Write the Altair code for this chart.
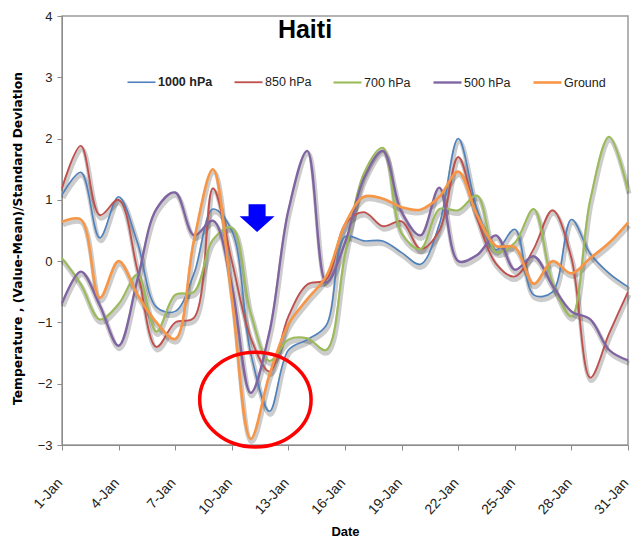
import altair as alt
import pandas as pd

# ---- data (daily values, 1-31 Jan) ----
days = list(range(1, 32))
series_names = ["1000 hPa", "850 hPa", "700 hPa", "500 hPa", "Ground"]
series_colors = ["#4F81BD", "#C0504D", "#9BBB59", "#8064A2", "#F79646"]
series_widths = [1.6, 2.6, 2.6, 2.6, 2.6]

hpa1000 = [1.08, 1.45, 0.38, 1.05, 0.3, -0.75, -0.82, -0.2, 0.85, 0.5, -1.5,
           -2.45, -1.45, -1.28, -1.05, 0.4, 0.33, 0.33, 0.14, -0.05, 0.6,
           2.0, 0.85, 0.18, 0.52, -0.55, -0.5, 0.68, 0.12, -0.2, -0.42]
hpa850 = [1.19, 1.88, 0.75, 1.0, -0.15, -1.4, -1.0, -0.92, 1.19, 0.0, -1.25,
          -1.8, -0.9, -0.38, -0.3, 0.6, 0.8, 0.57, 0.65, 0.2, 0.5,
          1.7, 0.7, -0.04, -0.25, 0.2, 0.83, 0.05, -1.9, -1.18, -0.5]
hpa700 = [0.05, -0.38, -0.95, -0.7, -0.22, -1.15, -0.55, -0.5, 0.35, 0.55, -0.85,
          -1.63, -1.28, -1.26, -1.45, 0.1, 1.43, 1.85, 0.45, 0.2, 0.85,
          0.83, 1.07, 0.15, 0.3, 0.85, -0.35, -0.9, 1.0, 2.03, 1.15]
hpa500 = [-0.69, -0.17, -0.72, -1.38, -0.3, 0.85, 1.12, 0.42, 0.66, -0.4, -2.15,
          -1.15, 0.83, 1.8, -0.35, 0.3, 1.35, 1.8, 0.8, 0.42, 1.2,
          0.0, 0.1, 0.42, -0.14, 0.08, -0.4, -0.82, -0.95, -1.45, -1.62]
ground = [0.64, 0.68, -0.6, 0.0, -0.55, -1.0, -1.27, 0.35, 1.5, -0.6, -2.9,
          -1.85, -1.03, -0.62, -0.25, 0.6, 1.05, 1.02, 0.88, 0.84, 1.05,
          1.46, 0.75, 0.25, 0.23, -0.37, 0.0, -0.2, 0.05, 0.3, 0.63]

tick_days = [1, 4, 7, 10, 13, 16, 19, 22, 25, 28, 31]
y_ticks = [-3, -2, -1, 0, 1, 2, 3, 4]

# annotations (data coordinates)
arrow_day = [11.34]
arrow_value = [0.70]
ellipse_day = [11.25]
ellipse_value = [-2.26]

rows = []
for name, vals in zip(series_names, [hpa1000, hpa850, hpa700, hpa500, ground]):
    for d, v in zip(days, vals):
        rows.append({"day": d, "value": v, "series": name})
df = pd.DataFrame(rows)

FONT = "Liberation Sans Narrow, Liberation Sans, sans-serif"

x = alt.X("day:Q",
          scale=alt.Scale(domain=[1, 31], nice=False, zero=False),
          axis=alt.Axis(values=tick_days, labelExpr="datum.value + '-Jan'",
                        labelAngle=-48, labelAlign="right", labelBaseline="bottom",
                        labelPadding=35, labelOffset=3, labelFontSize=14,
                        labelFont=FONT, tickSize=5, title="Date", titleFont=FONT,
                        titleFontSize=13, titleFontWeight="bold",
                        titleY=86, titleBaseline="middle"))
y = alt.Y("value:Q",
          scale=alt.Scale(domain=[-3, 4], nice=False, zero=False),
          axis=alt.Axis(values=y_ticks, format="d", labelFontSize=13,
                        labelFont=FONT, labelPadding=5, tickSize=5,
                        title="Temperature , (Value-Mean)/Standard Deviation",
                        titleFont="DejaVu Sans", titleFontSize=12.3,
                        titleFontWeight="bold", titleX=-38, titleY=222,
                        titleAlign="center"))

color = alt.Color("series:N",
                  scale=alt.Scale(domain=series_names, range=series_colors),
                  legend=alt.Legend(orient="none", legendX=64, legendY=51,
                                    direction="horizontal", columns=5, title=None,
                                    symbolType="stroke", symbolSize=784,
                                    symbolStrokeWidth=2.5, labelFontSize=12.5,
                                    labelFont=FONT, labelColor="#222",
                                    labelOffset=1, columnPadding=17, padding=0,
                                    labelFontWeight=alt.ExprRef(
                                        "datum.value == '1000 hPa' ? 'bold' : 'normal'")))

base = alt.Chart(df)

shadow = base.mark_line(interpolate="catmull-rom", color="#000000", opacity=0.2,
                        strokeWidth=5, yOffset=3, xOffset=1).encode(
    x=x, y=y, detail="series:N")

lines = base.mark_line(interpolate="catmull-rom").encode(
    x=x, y=y, color=color,
    strokeWidth=alt.StrokeWidth("series:N",
                                scale=alt.Scale(domain=series_names, range=series_widths),
                                legend=None))

ARROW = "M -0.486,-0.8 L 0.486,-0.8 L 0.486,-0.11 L 1,-0.11 L 0,0.78 L -1,-0.11 L -0.486,-0.11 Z"
ELLIPSE = ("M 1,0 C 1,0.4694 0.5523,0.85 0,0.85 C -0.5523,0.85 -1,0.4694 -1,0 "
           "C -1,-0.4694 -0.5523,-0.85 0,-0.85 C 0.5523,-0.85 1,-0.4694 1,0 Z")

arrow = alt.Chart(pd.DataFrame({"day": arrow_day, "value": arrow_value})).mark_point(
    shape=ARROW, size=1225, filled=True, color="#0000FF", opacity=1).encode(
    x="day:Q", y="value:Q")

ellipse = alt.Chart(pd.DataFrame({"day": ellipse_day, "value": ellipse_value})).mark_point(
    shape=ELLIPSE, size=12410, filled=False, color="#FF0000", strokeWidth=3.5,
    opacity=1).encode(x="day:Q", y="value:Q")

chart = alt.layer(shadow, lines, arrow, ellipse).properties(
    width=566, height=429,
    autosize="none",
    padding={"left": 54, "top": 8, "right": 4, "bottom": 94},
    title=alt.TitleParams("Haiti", fontSize=25, fontWeight="bold", font=FONT,
                          anchor="middle", dx=-40, dy=62, baseline="bottom",
                          color="#000")
).configure_view(stroke="#9A9A9A", strokeWidth=1.5).configure_axis(
    domainColor="#8C8C8C", tickColor="#8C8C8C", labelColor="#222",
    titleColor="#000", grid=False)

chart.save("out.html", embed_options={"renderer": "svg", "actions": False})
